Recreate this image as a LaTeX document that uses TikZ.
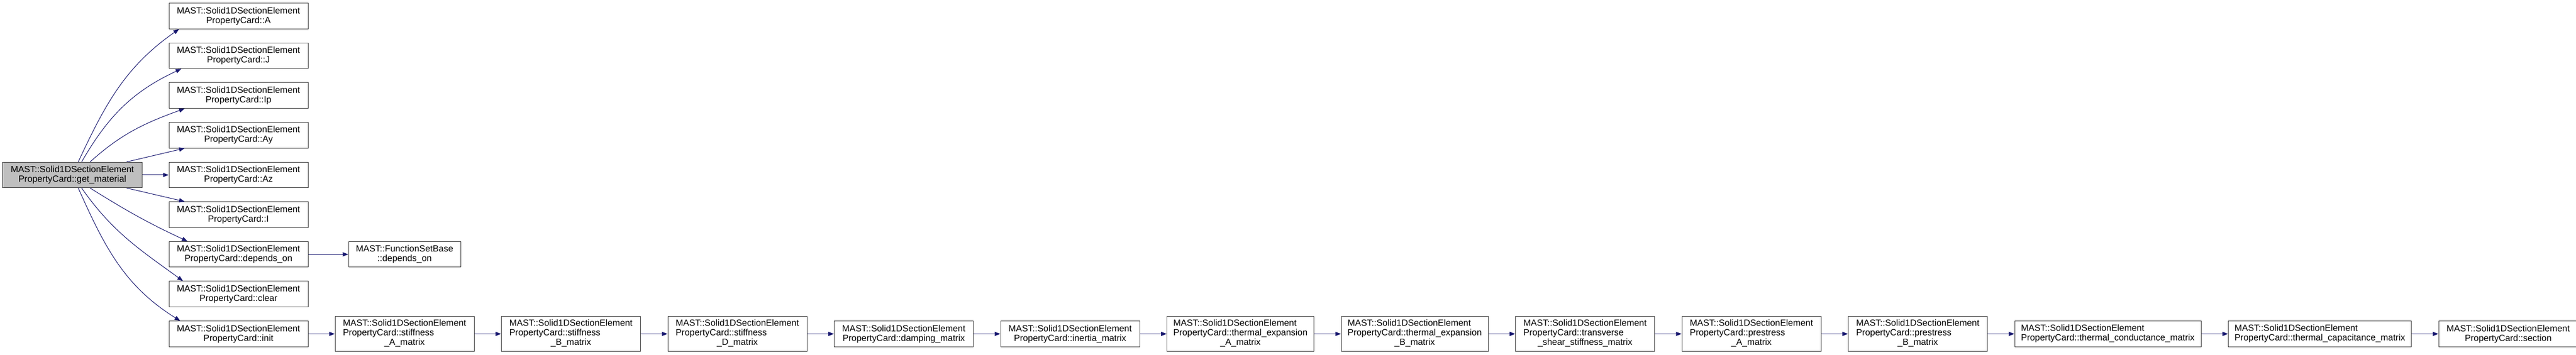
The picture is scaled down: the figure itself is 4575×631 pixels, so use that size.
\documentclass[tikz,border=0pt]{standalone}
\usepackage{fontspec}
\setmainfont{Liberation Sans}
\usetikzlibrary{positioning,arrows.meta}
\definecolor{callblue}{HTML}{191970}
\newcommand{\threeline}[3]{\begin{tabular}{@{}l@{}}#1\\#2\\\multicolumn{1}{@{}c@{}}{#3}\end{tabular}}
\newcommand{\twoleft}[2]{\begin{tabular}{@{}l@{}}#1\\#2\end{tabular}}

\begin{document}
\begin{tikzpicture}[x=1bp,y=1bp,
  box/.style={draw=black!75,line width=1bp,fill=white,inner sep=2bp,minimum width=247bp,
    minimum height=45.5bp,align=center,font=\fontsize{16}{17}\selectfont},
  tall/.style={minimum height=62bp},
  call/.style={draw=callblue,line width=1bp,-{Triangle[length=10bp,width=7.5bp]},callblue}]
\useasboundingbox (0,0) rectangle (4575,631);
\node [box,fill=black!25] (gm) at (128.5,320) {MAST::Solid1DSectionElement\\PropertyCard::get\_material};
% first column
\node [box] (a) at (423.5,602.5) {MAST::Solid1DSectionElement\\PropertyCard::A};
\node [box] (j) at (423.5,531.9) {MAST::Solid1DSectionElement\\PropertyCard::J};
\node [box] (ip) at (423.5,461.3) {MAST::Solid1DSectionElement\\PropertyCard::Ip};
\node [box] (ay) at (423.5,390.7) {MAST::Solid1DSectionElement\\PropertyCard::Ay};
\node [box] (az) at (423.5,320) {MAST::Solid1DSectionElement\\PropertyCard::Az};
\node [box] (i) at (423.5,249.5) {MAST::Solid1DSectionElement\\PropertyCard::I};
\node [box] (dep) at (423.5,178.9) {MAST::Solid1DSectionElement\\PropertyCard::depends\_on};
\node [box] (clr) at (423.5,108.3) {MAST::Solid1DSectionElement\\PropertyCard::clear};
\node [box] (init) at (423.5,37.5) {MAST::Solid1DSectionElement\\PropertyCard::init};
\node [box,minimum width=199bp,right=71bp of dep] (fsb) {MAST::FunctionSetBase\\::depends\_on};
% chain from init
\node [box,tall,right=47bp of init] (sa) {\threeline{MAST::Solid1DSectionElement}{PropertyCard::stiffness}{\_A\_matrix}};
\node [box,tall,right=47.5bp of sa] (sb) {\threeline{MAST::Solid1DSectionElement}{PropertyCard::stiffness}{\_B\_matrix}};
\node [box,tall,right=47.5bp of sb] (sd) {\threeline{MAST::Solid1DSectionElement}{PropertyCard::stiffness}{\_D\_matrix}};
\node [box,right=47.5bp of sd] (dm) {MAST::Solid1DSectionElement\\PropertyCard::damping\_matrix};
\node [box,right=47.5bp of dm] (im) {MAST::Solid1DSectionElement\\PropertyCard::inertia\_matrix};
\node [box,tall,minimum width=261bp,right=47.5bp of im] (tea) {\threeline{MAST::Solid1DSectionElement}{PropertyCard::thermal\_expansion}{\_A\_matrix}};
\node [box,tall,minimum width=261bp,right=47.5bp of tea] (teb) {\threeline{MAST::Solid1DSectionElement}{PropertyCard::thermal\_expansion}{\_B\_matrix}};
\node [box,tall,right=47.5bp of teb] (ts) {\threeline{MAST::Solid1DSectionElement}{PropertyCard::transverse}{\_shear\_stiffness\_matrix}};
\node [box,tall,right=47.5bp of ts] (pa) {\threeline{MAST::Solid1DSectionElement}{PropertyCard::prestress}{\_A\_matrix}};
\node [box,tall,right=47.5bp of pa] (pb) {\threeline{MAST::Solid1DSectionElement}{PropertyCard::prestress}{\_B\_matrix}};
\node [box,minimum width=331bp,right=47.5bp of pb] (tc) {\twoleft{MAST::Solid1DSectionElement}{PropertyCard::thermal\_conductance\_matrix}};
\node [box,minimum width=325bp,right=47.5bp of tc] (tcap) {\twoleft{MAST::Solid1DSectionElement}{PropertyCard::thermal\_capacitance\_matrix}};
\node [box,right=47.5bp of tcap] (sec) {MAST::Solid1DSectionElement\\PropertyCard::section};
% calls of get_material
\draw [call] ([xshift=10.5bp]gm.north) to[out=65,in=215] ([xshift=-105.5bp]a.south);
\draw [call] ([xshift=16.5bp]gm.north) to[out=60,in=205] ([xshift=-101.5bp]j.south);
\draw [call] ([xshift=31.5bp]gm.north) to[out=42,in=200] ([xshift=-95.5bp]ip.south);
\draw [call] ([xshift=96.5bp]gm.north) -- ([xshift=-95.5bp]ay.south);
\draw [call] (gm.east) -- (az.west);
\draw [call] ([xshift=96.5bp]gm.south) -- ([xshift=-95.5bp]i.north);
\draw [call] ([xshift=31.5bp]gm.south) to[out=-32,in=155] ([xshift=-90.5bp]dep.north);
\draw [call] ([xshift=16.5bp]gm.south) to[out=-55,in=144] ([xshift=-98.5bp]clr.north);
\draw [call] ([xshift=10.5bp]gm.south) to[out=-66,in=148] ([xshift=-103.5bp]init.north);
\draw [call] (dep.east) -- (fsb.west);
% calls along the chain
\draw [call] (init.east) -- (sa.west);
\draw [call] (sa.east) -- (sb.west);
\draw [call] (sb.east) -- (sd.west);
\draw [call] (sd.east) -- (dm.west);
\draw [call] (dm.east) -- (im.west);
\draw [call] (im.east) -- (tea.west);
\draw [call] (tea.east) -- (teb.west);
\draw [call] (teb.east) -- (ts.west);
\draw [call] (ts.east) -- (pa.west);
\draw [call] (pa.east) -- (pb.west);
\draw [call] (pb.east) -- (tc.west);
\draw [call] (tc.east) -- (tcap.west);
\draw [call] (tcap.east) -- (sec.west);
\end{tikzpicture}
\end{document}
